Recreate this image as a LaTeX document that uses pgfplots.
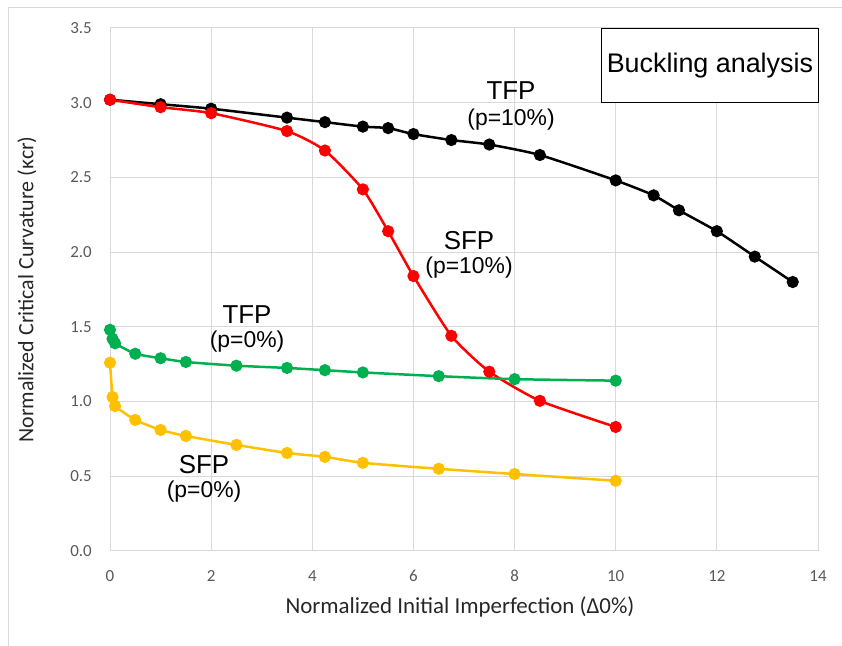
\documentclass[border=0pt]{standalone}
\usepackage{pgfplots}
\pgfplotsset{compat=1.18}
\usepackage{fontspec}
\setmainfont{Liberation Sans}
\newfontfamily\calibri{Carlito}
\definecolor{xlgreen}{HTML}{00B050}
\definecolor{xlgold}{HTML}{FFC000}
\definecolor{xlgrid}{HTML}{D9D9D9}
\definecolor{xltick}{HTML}{595959}
\begin{document}
\begin{tikzpicture}[x=1bp,y=1bp]
\path[use as bounding box] (0,0) rectangle (842,646);
\draw[xlgrid, line width=1bp] (8,0) -- (8,638) -- (842,638);
\begin{axis}[
  at={(110bp,95bp)}, anchor=origin,
  scale only axis, width=708bp, height=523bp,
  xmin=0, xmax=14, ymin=0, ymax=3.5,
  xtick={0,2,...,14}, ytick={0,0.5,...,3.5},
  yticklabel style={/pgf/number format/fixed, /pgf/number format/fixed zerofill, /pgf/number format/precision=1},
  /pgf/number format/assume math mode=true,
  ticklabel style={font=\calibri\fontsize{17}{19}\selectfont, text=xltick, inner sep=0pt},
  xticklabel style={anchor=center, yshift=-25bp},
  yticklabel style={anchor=east, xshift=-18bp},
  major tick length=0pt,
  grid=major, grid style={xlgrid, line width=1bp},
  axis line style={xlgrid, line width=1bp},
  axis x line*=bottom, axis y line*=left,
  xlabel={Normalized Initial Imperfection (Δ0\%)},
  ylabel={Normalized Critical Curvature (κcr)},
  label style={text=black!85, inner sep=0pt},
  xlabel style={font=\calibri\fontsize{23}{26}\selectfont, at={(axis description cs:0.5,0)}, anchor=center, yshift=-56bp, xshift=-4bp},
  ylabel style={font=\calibri\fontsize{22}{25}\selectfont, at={(axis description cs:0,0.5)}, anchor=center, yshift=83bp},
  every axis plot/.append style={line width=2.5bp, mark=*, mark size=4.8bp, smooth, tension=0.35},
  clip=false,
]
\addplot[black, mark options={fill=black}] coordinates {
(0,3.02)(1,2.99)(2,2.96)(3.5,2.90)(4.25,2.87)(5,2.84)(5.5,2.83)(6,2.79)(6.75,2.75)(7.5,2.72)(8.5,2.65)(10,2.48)(10.75,2.38)(11.25,2.28)(12,2.14)(12.75,1.97)(13.5,1.80)};
\addplot[red, mark options={fill=red}] coordinates {
(0,3.02)(1,2.97)(2,2.93)(3.5,2.81)(4.25,2.68)(5,2.42)(5.5,2.14)(6,1.84)(6.75,1.44)(7.5,1.20)(8.5,1.005)(10,0.83)};
\addplot[xlgreen, mark options={fill=xlgreen}] coordinates {
(0,1.48)(0.05,1.42)(0.1,1.39)(0.5,1.32)(1,1.29)(1.5,1.265)(2.5,1.24)(3.5,1.225)(4.25,1.21)(5,1.195)(6.5,1.17)(8,1.15)(10,1.14)};
\addplot[xlgold, mark options={fill=xlgold}] coordinates {
(0,1.26)(0.05,1.03)(0.1,0.97)(0.5,0.877)(1,0.81)(1.5,0.77)(2.5,0.71)(3.5,0.656)(4.25,0.63)(5,0.59)(6.5,0.55)(8,0.515)(10,0.47)};
\node[font=\fontsize{26}{28}\selectfont] at (axis cs:7.93,3.08) {TFP};
\node[font=\fontsize{23}{26}\selectfont] at (axis cs:7.93,2.89) {(p=10\%)};
\node[font=\fontsize{26}{28}\selectfont] at (axis cs:7.1,2.08) {SFP};
\node[font=\fontsize{23}{26}\selectfont] at (axis cs:7.1,1.90) {(p=10\%)};
\node[font=\fontsize{26}{28}\selectfont] at (axis cs:2.71,1.58) {TFP};
\node[font=\fontsize{23}{26}\selectfont] at (axis cs:2.71,1.40) {(p=0\%)};
\node[font=\fontsize{26}{28}\selectfont] at (axis cs:1.86,0.576) {SFP};
\node[font=\fontsize{23}{26}\selectfont] at (axis cs:1.86,0.395) {(p=0\%)};
\node[draw=black, line width=1.2bp, fill=white, font=\fontsize{27}{29}\selectfont,
  minimum width=217bp, minimum height=74bp, inner sep=0pt, anchor=north east]
  at (axis cs:14.02,3.5) {Buckling analysis};
\end{axis}
\end{tikzpicture}
\end{document}
